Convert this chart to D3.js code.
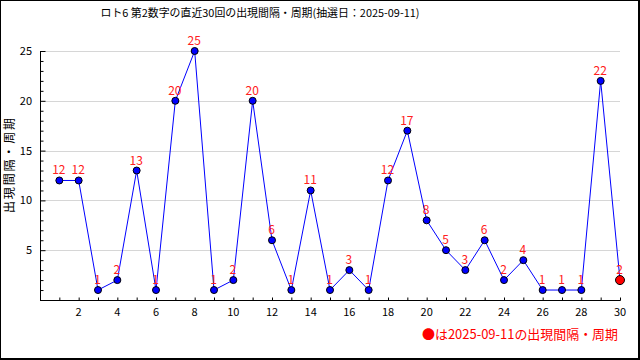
<!DOCTYPE html>
<html>
<head>
<meta charset="utf-8">
<script src="https://cdn.jsdelivr.net/npm/d3@7"></script>
<style>
  html, body { margin: 0; padding: 0; background: #fff; }
  svg { display: block; }
  text { font-family: "Noto Sans CJK JP", "DejaVu Sans", sans-serif; }
</style>
</head>
<body>
<svg id="chart" width="640" height="360"></svg>
<script>
const titleText = "ロト6 第2数字の直近30回の出現間隔・周期(抽選日：2025-09-11)";
const yAxisLabel = "出現間隔・周期";
const legendText = "●は2025-09-11の出現間隔・周期";
const draws = d3.range(1, 31);
const intervals = [12, 12, 1, 2, 13, 1, 20, 25, 1, 2, 20, 6, 1, 11, 1, 3, 1, 12, 17, 8, 5, 3, 6, 2, 4, 1, 1, 1, 22, 2];
const yTickValues = [5, 10, 15, 20, 25];
const xLabelValues = [2, 4, 6, 8, 10, 12, 14, 16, 18, 20, 22, 24, 26, 28, 30];

(function () {
const svg = d3.select("#chart");
const W = 640, H = 360;
const mLeft = 40, mRight = 620, mTop = 51, mBottom = 300;

// frame
svg.append("rect").attr("x", 0).attr("y", 0).attr("width", W).attr("height", H).attr("fill", "#000");
svg.append("rect").attr("x", 1).attr("y", 1).attr("width", 637).attr("height", 357).attr("fill", "#fff");

const x = d3.scaleLinear().domain([0, 30]).range([mLeft, mRight]);
const y = d3.scaleLinear().domain([0, 25]).range([mBottom, mTop]);

// gridlines
svg.append("g").selectAll("line").data(yTickValues).join("line")
  .attr("x1", mLeft).attr("x2", mRight)
  .attr("y1", d => Math.round(y(d)) + 0.5).attr("y2", d => Math.round(y(d)) + 0.5)
  .attr("stroke", "#d6d6d6").attr("stroke-width", 1);

// y axis
const yAxis = d3.axisRight(y).tickValues(d3.range(1, 26)).tickSize(3).tickFormat("");
const gy = svg.append("g").attr("transform", `translate(${mLeft + 0.5},0)`).call(yAxis);
gy.select(".domain").remove();
gy.selectAll(".tick line").attr("stroke", "#000")
  .attr("x2", d => d % 5 === 0 ? 5 : 3);
svg.append("line").attr("x1", mLeft + 0.5).attr("x2", mLeft + 0.5)
  .attr("y1", y(25)).attr("y2", mBottom + 0.5).attr("stroke", "#000");
svg.append("g").selectAll("text").data(yTickValues).join("text")
  .attr("x", 32).attr("y", d => y(d)).attr("dy", "0.36em")
  .attr("text-anchor", "end").attr("font-size", 11).attr("fill", "#000")
  .text(d => d);

// x axis
const xAxis = d3.axisTop(x).tickValues(draws).tickSize(3).tickFormat("");
const gx = svg.append("g").attr("transform", `translate(0,${mBottom + 0.5})`).call(xAxis);
gx.select(".domain").remove();
gx.selectAll(".tick line").attr("stroke", "#000");
svg.append("line").attr("x1", mLeft).attr("x2", mRight + 0.5)
  .attr("y1", mBottom + 0.5).attr("y2", mBottom + 0.5).attr("stroke", "#000");
svg.append("g").selectAll("text").data(xLabelValues).join("text")
  .attr("x", d => x(d)).attr("y", 316)
  .attr("text-anchor", "middle").attr("font-size", 11).attr("fill", "#000")
  .text(d => d);

// line
const pts = draws.map((d, i) => ({ d, v: intervals[i] }));
svg.append("path").datum(pts)
  .attr("d", d3.line().x(p => x(p.d)).y(p => y(p.v)))
  .attr("fill", "none").attr("stroke", "#0000ff").attr("stroke-width", 1);

// points
svg.append("g").selectAll("circle").data(pts).join("circle")
  .attr("cx", p => x(p.d)).attr("cy", p => y(p.v))
  .attr("r", (p, i) => i === pts.length - 1 ? 4.5 : 3.5)
  .attr("fill", (p, i) => i === pts.length - 1 ? "#ff0000" : "#0000ff")
  .attr("stroke", "#000").attr("stroke-width", 1);

// value labels
svg.append("g").selectAll("text").data(pts).join("text")
  .attr("x", p => x(p.d) - 0.5).attr("y", p => y(p.v) - 6)
  .attr("text-anchor", "middle").attr("font-size", 12).attr("fill", "#ff2020")
  .text(p => p.v);

// title
svg.append("text").attr("x", 260).attr("y", 16.5)
  .attr("text-anchor", "middle").attr("font-size", 11).attr("fill", "#000")
  .attr("textLength", 319).attr("lengthAdjust", "spacingAndGlyphs")
  .text(titleText);

// y axis label
svg.append("text").attr("transform", "translate(8,165.5) rotate(-90)")
  .attr("text-anchor", "middle").attr("dominant-baseline", "central")
  .attr("font-size", 12).attr("fill", "#000")
  .attr("textLength", 95).attr("lengthAdjust", "spacing")
  .text(yAxisLabel);

// legend
svg.append("text").attr("x", 618).attr("y", 339)
  .attr("text-anchor", "end").attr("font-size", 13).attr("fill", "#ff0000")
  .attr("textLength", 196).attr("lengthAdjust", "spacingAndGlyphs")
  .text(legendText);
})();
</script>
</body>
</html>
